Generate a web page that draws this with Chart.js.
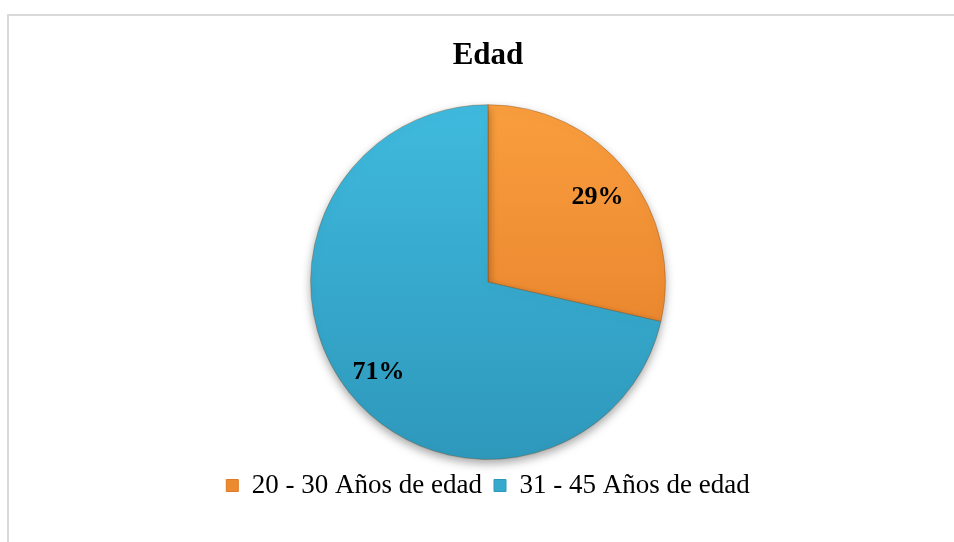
<!DOCTYPE html>
<html>
<head>
<meta charset="utf-8">
<script src="https://cdn.jsdelivr.net/npm/chart.js@4/dist/chart.umd.min.js"></script>
<style>
  html, body { margin: 0; padding: 0; background: #fff; }
  #wrap { position: relative; width: 954px; height: 542px; overflow: hidden; }
  #frame { position: absolute; left: 7px; top: 14px; width: 980px; height: 560px; border: 2px solid #d9d9d9; box-sizing: border-box; }
  #chart { position: absolute; left: 0; top: 0; }
</style>
</head>
<body>
<div id="wrap">
  <div id="frame"></div>
  <canvas id="chart" width="954" height="542"></canvas>
</div>
<script>
// data (slice angles fit 2 of 7 / 5 of 7)
const categories = ['20 - 30 Años de edad', '31 - 45 Años de edad'];
const values = [2, 5];
const chartTitle = 'Edad';

// slice colours: top / bottom of the gradient, plus the legend swatch
const topColors = ['#f99e3e', '#3fbade'];
const bottomColors = ['#e27a26', '#2e98bb'];
const swatchColors = ['#ec8a30', '#36a9cc'];

const serif = '"Liberation Serif", "Times New Roman", serif';

// vertical gradient per slice, built from the chart area
function sliceFill(ctx) {
    const chart = ctx.chart;
    const area = chart.chartArea;
    if (!area) return swatchColors[ctx.dataIndex];
    const g = chart.ctx.createLinearGradient(0, area.top, 0, area.bottom);
    g.addColorStop(0, topColors[ctx.dataIndex]);
    g.addColorStop(1, bottomColors[ctx.dataIndex]);
    return g;
}

// soft drop shadow under the pie
const shadowPlugin = {
    id: 'pieShadow',
    beforeDatasetsDraw(chart) {
        const c = chart.ctx;
        c.save();
        c.shadowColor = 'rgba(0,0,0,0.35)';
        c.shadowBlur = 10;
        c.shadowOffsetY = 4;
    },
    afterDatasetsDraw(chart) {
        chart.ctx.restore();
    }
};

// percentage labels placed inside each slice
const percentLabels = {
    id: 'percentLabels',
    afterDatasetsDraw(chart) {
        const c = chart.ctx;
        const meta = chart.getDatasetMeta(0);
        const total = values.reduce((a, b) => a + b, 0);
        c.save();
        c.font = 'bold 26px ' + serif;
        c.fillStyle = '#000';
        c.textAlign = 'center';
        c.textBaseline = 'middle';
        meta.data.forEach((arc, i) => {
            const p = arc.getProps(['x', 'y', 'startAngle', 'endAngle', 'outerRadius'], true);
            const mid = (p.startAngle + p.endAngle) / 2;
            const d = p.outerRadius * 0.79;
            const txt = Math.round(values[i] / total * 100) + '%';
            c.fillText(txt, p.x + Math.cos(mid) * d, p.y + Math.sin(mid) * d + 3);
        });
        c.restore();
    }
};

new Chart(document.getElementById('chart').getContext('2d'), {
    type: 'pie',
    data: {
        labels: categories,
        datasets: [{
            data: values,
            backgroundColor: sliceFill,
            borderColor: 'rgba(120,70,20,0.35)',
            borderWidth: 1,
            hoverOffset: 0
        }]
    },
    options: {
        responsive: false,
        animation: false,
        layout: { padding: { left: 22, right: 0, top: 0, bottom: 33 } },
        plugins: {
            title: {
                display: true,
                text: chartTitle,
                color: '#000',
                font: { family: serif, size: 31, weight: 'bold' },
                padding: { top: 37, bottom: 30 }
            },
            legend: {
                position: 'bottom',
                labels: {
                    color: '#000',
                    font: { family: serif, size: 27 },
                    boxWidth: 12,
                    boxHeight: 12,
                    padding: 12,
                    generateLabels(chart) {
                        const items = Chart.overrides.pie.plugins.legend.labels.generateLabels(chart);
                        items.forEach((it, i) => {
                            it.fillStyle = swatchColors[i];
                            it.strokeStyle = bottomColors[i];
                            it.lineWidth = 1;
                        });
                        return items;
                    }
                }
            },
            tooltip: { enabled: false }
        }
    },
    plugins: [shadowPlugin, percentLabels]
});
</script>
</body>
</html>
